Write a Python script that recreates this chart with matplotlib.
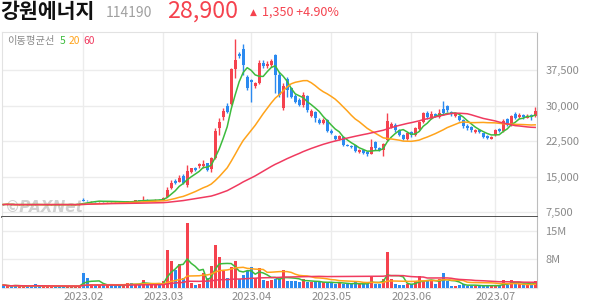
import numpy as np
import pandas as pd
import matplotlib
matplotlib.use("Agg")
import matplotlib.pyplot as plt
from matplotlib.ticker import FixedLocator, FuncFormatter

plt.rcParams['font.family'] = ['Noto Sans CJK KR', 'DejaVu Sans']

# ---- data (KRW per share, volume in millions) ----
# trading days 2023-01-02 .. 2023-07-17, one line per month
open_px = [
    9200, 9150, 9250, 9100, 9050, 9150, 9250, 9200, 9150, 9100, 9050, 9100, 9150, 9200, 9150, 9100, 9050, 9100, 9150, 9200,
    10200, 9950, 9850, 9900, 9800, 9850, 9800, 9850, 9800, 9650, 9600, 9700, 9900, 9850, 10050, 9950, 10150, 10050, 10100, 10150,
    10150, 10800, 12600, 14100, 13900, 15200, 13200, 16000, 16900, 17300, 17300, 17800, 16600, 18900, 25300, 27500, 30000, 30300, 37800, 40800, 42000, 36000,
    35300, 34200, 34800, 38900, 38300, 38500, 40600, 36500, 29500, 35700, 33600, 32000, 31200, 30100, 32000, 27800, 28600, 27000, 26400, 27000,
    24700, 23500, 23000, 23300, 21800, 21500, 21600, 20300, 20600, 20200, 19900, 22300, 21000, 20700, 22800, 25500, 26000, 24800, 23800, 23000,
    24500, 23700, 25100, 26600, 28500, 27400, 28200, 27700, 29300, 30000, 28600, 27900, 27800, 26900, 25800, 25400, 24500, 24800, 24200, 23600, 23000,
    23700, 25000, 24600, 27200, 25900, 28200, 27600, 28100, 27400, 28000, 27900,
]
high_px = [
    9300, 9300, 9300, 9150, 9200, 9300, 9300, 9250, 9200, 9150, 9150, 9200, 9250, 9250, 9200, 9150, 9150, 9200, 9250, 9450,
    10600, 10050, 9950, 9950, 9900, 9900, 9900, 9950, 9850, 9700, 9700, 9950, 10000, 10100, 10150, 10900, 10250, 10200, 10250, 10300,
    10700, 12900, 14300, 14600, 15300, 15500, 17400, 16900, 17100, 17800, 18600, 18000, 19200, 25300, 27300, 29400, 30500, 37900, 44100, 41200, 43000, 36400,
    35600, 35000, 39500, 39600, 39300, 39800, 40800, 37000, 34800, 36000, 33900, 32400, 31500, 32800, 32300, 29200, 28900, 27300, 27400, 27200,
    25000, 23900, 23800, 23600, 22000, 21700, 21800, 20800, 20700, 20400, 23000, 22600, 21200, 22200, 28400, 26500, 26300, 25000, 24000, 24500,
    24700, 25500, 26700, 28700, 28800, 28900, 28500, 29200, 31000, 30200, 28800, 28400, 28000, 27100, 26200, 25600, 25000, 25000, 24300, 23800, 23500,
    25000, 25300, 27100, 27400, 28000, 28700, 28400, 28300, 28300, 28200, 29800,
]
low_px = [
    9100, 9100, 9050, 9000, 9000, 9100, 9150, 9100, 9050, 9000, 9000, 9050, 9100, 9100, 9050, 9000, 9000, 9050, 9100, 9150,
    9850, 9800, 9750, 9750, 9700, 9750, 9700, 9750, 9600, 9550, 9500, 9650, 9800, 9800, 9900, 9900, 10000, 9950, 10000, 10050,
    10100, 10700, 12400, 13500, 13800, 13400, 12900, 15700, 16300, 16800, 16900, 16300, 16100, 18700, 23700, 27000, 28500, 30100, 35800, 40000, 36400, 33300,
    30800, 33800, 34500, 38000, 37900, 38200, 32700, 31800, 29000, 31800, 31600, 30600, 29900, 29700, 28600, 27500, 26600, 26200, 26200, 24500,
    24000, 22800, 22700, 21500, 21400, 21000, 20300, 20100, 19800, 19400, 19700, 20700, 20500, 19400, 22500, 25200, 24500, 23600, 22800, 22700,
    23400, 23500, 24900, 26400, 27200, 27200, 27500, 27400, 28000, 28600, 27900, 27700, 26800, 25200, 24900, 24400, 24300, 24200, 23200, 23000, 22900,
    23600, 24400, 24500, 25600, 25700, 27100, 27300, 27200, 27300, 27000, 27700,
]
close_px = [
    9150, 9250, 9100, 9050, 9150, 9250, 9200, 9150, 9100, 9050, 9100, 9150, 9200, 9150, 9100, 9050, 9100, 9150, 9200, 9350,
    9950, 9850, 9900, 9800, 9850, 9800, 9850, 9800, 9650, 9600, 9650, 9900, 9850, 10050, 9950, 10150, 10050, 10100, 10150, 10100,
    10600, 12200, 13700, 13600, 14800, 13600, 16200, 16800, 16400, 17700, 17700, 16500, 18900, 24600, 26600, 28900, 28700, 37700, 39500, 40400, 38600, 33700,
    34900, 34700, 39000, 38400, 38700, 39300, 36500, 32200, 34200, 33300, 31900, 30800, 30100, 32300, 29000, 28800, 27300, 26400, 27000, 24700,
    24200, 23000, 23500, 21700, 21550, 21200, 20500, 20600, 20000, 19700, 21300, 21000, 20700, 22000, 26800, 26200, 24800, 23900, 23000, 24300,
    23700, 25200, 26500, 28500, 27500, 28200, 27700, 28500, 28400, 29000, 28200, 28200, 27000, 25600, 25200, 24800, 24800, 24400, 23400, 23200, 23300,
    24800, 24600, 26800, 25900, 27800, 27300, 28100, 27600, 27900, 27550, 28900,
]
volume_m = [
    0.8, 0.5, 0.4, 0.8, 0.5, 0.4, 0.4, 0.5, 1.1, 0.4, 0.4, 0.4, 0.4, 0.5, 0.4, 0.4, 0.4, 0.4, 0.5, 0.6,
    4.0, 2.6, 1.1, 0.8, 0.8, 0.7, 0.8, 0.7, 0.6, 0.6, 0.6, 1.4, 1.4, 0.9, 0.8, 2.2, 1.0, 0.8, 0.7, 1.0,
    1.9, 9.9, 7.2, 4.8, 6.4, 2.7, 17.0, 1.4, 0.9, 1.1, 4.0, 2.5, 5.8, 11.2, 8.0, 4.5, 2.7, 5.6, 7.0, 2.4, 3.3, 4.4,
    5.5, 2.5, 5.3, 2.0, 1.9, 2.2, 2.4, 2.5, 4.6, 1.9, 1.9, 1.9, 1.7, 2.4, 1.7, 1.5, 1.5, 1.5, 1.5, 1.5,
    1.5, 1.1, 1.5, 1.0, 1.0, 1.0, 1.5, 1.0, 1.0, 1.0, 3.2, 1.0, 1.0, 2.4, 9.4, 2.4, 1.0, 0.9, 0.9, 1.0,
    1.0, 1.9, 3.2, 1.9, 1.75, 1.75, 1.0, 2.4, 3.9, 1.9, 0.6, 0.6, 0.9, 1.0, 0.6, 0.6, 0.6, 0.6, 0.6, 0.6, 0.6,
    0.6, 0.7, 2.1, 0.9, 2.1, 1.5, 1.0, 0.9, 0.9, 1.0, 1.9,
]
ma_windows = [5, 20, 60]
krx_holidays = ["2023-01-23", "2023-01-24", "2023-03-01", "2023-05-01",
                "2023-05-05", "2023-05-29", "2023-06-06"]

# ---- styling ----
UP = "#f5424e"
DOWN = "#2b8af0"
MA_COLORS = ["#3dbb3d", "#ffa31a", "#f03a5f"]
GRID = "#ececec"
TXT = "#8a8a8a"

days = pd.bdate_range("2023-01-02", "2023-07-17")
days = days[~days.isin(pd.to_datetime(krx_holidays))]

df = pd.DataFrame({"open": open_px, "high": high_px, "low": low_px,
                   "close": close_px, "vol": np.array(volume_m) * 1e6}, index=days)
x = np.arange(len(df))
up = df["close"] >= df["open"]
colors = np.where(up, UP, DOWN)

month_start = [i for i in range(1, len(df)) if days[i].month != days[i - 1].month]
month_lbl = [days[i].strftime("%Y.%m") for i in month_start]

fig = plt.figure(figsize=(5.94, 3.04), dpi=100)
W, H = 594, 304
ax = fig.add_axes([2 / W, 1 - 217 / H, 535 / W, 185 / H])
axv = fig.add_axes([2 / W, 1 - 288 / H, 535 / W, 71 / H], sharex=ax)

# price panel
ax.vlines(x, df["low"], df["high"], colors=colors, lw=1, zorder=3)
body_low = np.minimum(df["open"], df["close"])
body_h = np.maximum((df["close"] - df["open"]).abs(), 60)
ax.bar(x, body_h, bottom=body_low, width=0.72, color=colors, zorder=4, linewidth=0)
for w, c in zip(ma_windows, MA_COLORS):
    ax.plot(x, df["close"].rolling(w, min_periods=1).mean(), color=c, lw=1.1, zorder=5)

ax.set_ylim(6530, 45500)
ax.set_xlim(-0.3, len(df) - 0.55)
ax.yaxis.tick_right()
ax.yaxis.set_major_locator(FixedLocator([7500, 15000, 22500, 30000, 37500]))
ax.yaxis.set_major_formatter(FuncFormatter(lambda v, p: f"{int(v):,}"))
ax.tick_params(axis="y", length=0, pad=6, labelsize=8, labelcolor=TXT)
ax.tick_params(axis="x", length=0, labelbottom=False)
ax.set_xticks(month_start)
ax.grid(True, color=GRID, lw=1, zorder=0)
for s in ["top", "left"]:
    ax.spines[s].set_color("#e2e2e2")
ax.spines["right"].set_color("#bdbdbd")
ax.spines["bottom"].set_color("#333333")
ax.spines["bottom"].set_linewidth(1.2)

ax.text(0.009, 0.95, "이동평균선", transform=ax.transAxes, fontsize=7.4,
        color=TXT, va="center")
for lbl, c, xo in zip(["5", "20", "60"], MA_COLORS, [0.108, 0.125, 0.153]):
    ax.text(xo, 0.95, lbl, transform=ax.transAxes, fontsize=7.4, color=c, va="center")
ax.text(0.006, 0.05, "©PAXNet", transform=ax.transAxes, fontsize=11,
        fontweight="bold", fontstyle="italic", color="#9a9a9a", alpha=0.45,
        va="center", family="DejaVu Sans")

# volume panel
axv.bar(x, df["vol"], width=0.72, color=colors, linewidth=0, zorder=3)
for w, c in zip(ma_windows, MA_COLORS):
    axv.plot(x, df["vol"].rolling(w, min_periods=1).mean(), color=c, lw=1.1, zorder=4)
axv.set_ylim(0, 18.6e6)
axv.yaxis.tick_right()
axv.yaxis.set_major_locator(FixedLocator([7.5e6, 15e6]))
axv.set_yticklabels(["8M", "15M"])
axv.tick_params(axis="y", length=0, pad=6, labelsize=8, labelcolor=TXT)
axv.set_xticks(month_start)
axv.set_xticklabels(month_lbl)
axv.tick_params(axis="x", length=0, pad=3, labelsize=8, labelcolor=TXT)
axv.grid(True, color=GRID, lw=1, zorder=0)
axv.spines["top"].set_visible(False)
axv.spines["left"].set_color("#e2e2e2")
axv.spines["bottom"].set_color("#e2e2e2")
axv.spines["right"].set_color("#bdbdbd")

# header
last = df["close"].iloc[-1]
prev = df["close"].iloc[-2]
chg = last - prev
fig.text(0 / W, 1 - 12 / H, "강원에너지", fontsize=14.8, fontweight="bold",
         color="#111111", va="center")
fig.text(106 / W, 1 - 13 / H, "114190", fontsize=10, color="#a0a0a0", va="center")
fig.text(167 / W, 1 - 11 / H, f"{int(last):,}", fontsize=16.8, color=UP, va="center")
fig.text(250 / W, 1 - 12 / H, "▲", fontsize=6.5, color=UP, va="center", family="DejaVu Sans")
fig.text(262 / W, 1 - 12 / H, f"{int(chg):,} +{chg / prev * 100:.2f}%", fontsize=9,
         color=UP, va="center")

fig.savefig("out.png", dpi=100)
